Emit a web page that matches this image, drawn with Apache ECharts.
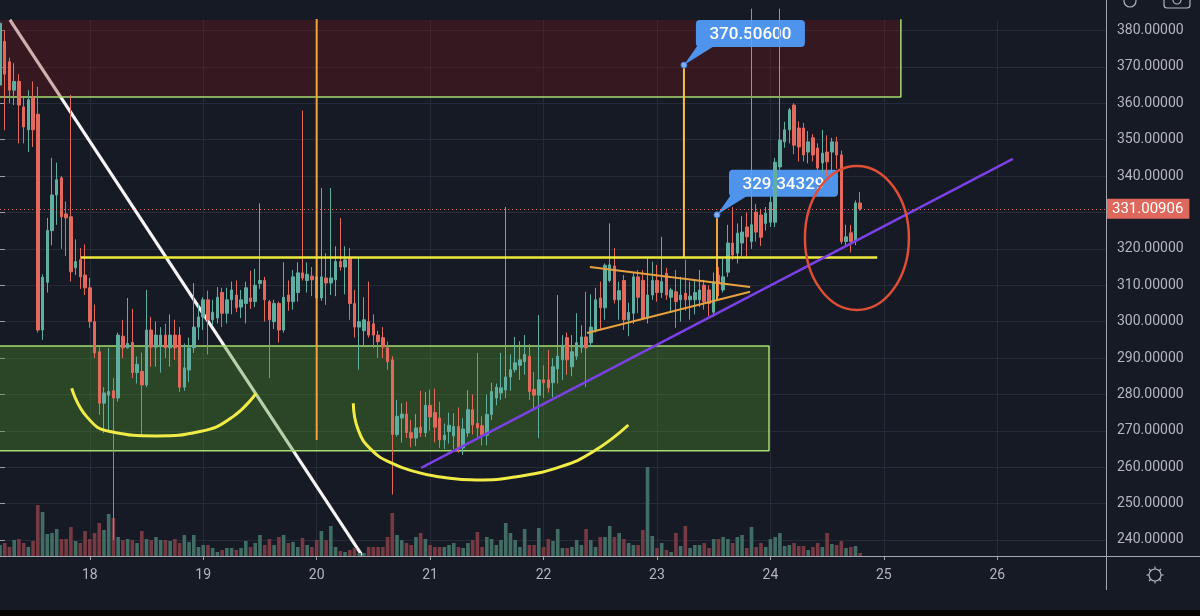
<!DOCTYPE html>
<html><head><meta charset="utf-8">
<script src="https://cdn.jsdelivr.net/npm/echarts@6/dist/echarts.min.js"></script>
<style>html,body{margin:0;padding:0;background:#161a25;overflow:hidden}#c{width:1200px;height:616px}</style>
</head><body><div id="c"></div>
<script>
// ---- axis / tick data ----
const dayTicks = ['18','19','20','21','22','23','24','25','26'];
const firstTickSlot = 19;      // hourly slot of day 18 00:00
const slotsPerDay = 24;
const totalSlots = 235;
// ---- hourly candles [open, close, low, high] ----
const candles = [
[365,382,362,383.5],[377,368,352.6,380],[371.4,363.6,360,372.5],[363.6,366,359.5,371],[366,359.5,349,368],
[359,353.5,349,361.5],[352.7,361,346.6,363.6],[361.5,352.7,348,366],[357,297.7,297,364.5],[297.7,312.2,295,313],
[310.8,325.1,308,328.5],[325,334.8,321,345],[334.8,339,326.6,343.7],[339.5,328.8,320,340],[329.6,328.5,318,333],
[328.8,313.7,311,362.3],[314.8,316.5,312.8,322.6],[317,312.3,309,320.2],[312.8,309.3,307.3,321.2],[309.3,300,298.3,312],
[300,291.4,290,304.7],[291.7,277.6,274.4,293],[277.6,280.4,269.4,282],[279.8,280.8,269.7,292.8],[281,279,240,284.5],
[279,296.3,278,297],[296,292.8,290,300.5],[292.8,294,292.6,306.5],[294.3,286,284.5,303.5],[286,288.3,283,290.4],
[286.3,282.6,268.3,291.5],[282.6,297.7,282,308.7],[297.7,293,287.6,301.3],[293,296.3,287.6,300],[293.5,296.3,286,298.5],
[296.3,292.8,290,299.4],[292.8,296.3,287.6,302],[296.3,292.8,289.5,300.5],[296.3,282,280.7,298.5],[282,287.3,281,294],
[286.7,292.8,283.4,295.6],[292.8,298.5,291.4,310.6],[298.5,301.3,295,304.8],[301.3,306,297.7,306.7],[306,300.5,291,308.5],
[300.5,302.6,299,306],[301,306.7,299.5,309.5],[308,302.3,298.5,309.3],[302.3,306,299.5,309.3],[306,308.7,302,311],
[307.3,303.8,302.6,311.3],[304,306,301,308.7],[305,309.3,299.5,311],[306.5,305.5,303.5,314],[305.5,310,304,314.5],
[310.5,311.3,309,332.5],[311.3,306,300,312.3],[305.5,300.5,284.5,306],[300,305,298,306],[305,297.7,294.3,305.5],
[297.7,306.7,297,316.3],[307.3,305.5,303,311.3],[305.5,312.3,303.3,314.2],[308,313.4,305.5,316.3],[313.4,312,311.3,358],
[311.3,313,308,316.3],[312.5,311.5,307,315],[312.3,306.5,304,314],[306.5,312.3,305.7,336.7],[312,310.6,304.6,318.8],
[310.6,312,307.3,336.7],[311.5,316.5,307,320.7],[316.5,315,314,328.5],[315,317,307.5,320.7],[317.6,305,300.5,320.2],
[305,298.5,295.6,308.7],[298.5,300,286.8,317.6],[297.5,300.5,293,306.7],[300,296.3,295.6,311],[299.4,296.3,292.8,302],
[296.3,294.5,290,297.5],[295.6,293,290,298.5],[292.8,289,286.8,294.5],[289.5,269,252.5,290.5],[269,274,268.4,278.5],
[273.5,274.6,266.8,277.6],[274.6,269.5,268,278],[269.5,268,265.5,273],[268,270.8,265.8,274.6],[271,269.5,268.3,281],
[269.5,277,268.3,280.7],[277,273.8,270,281.3],[275,271,266.8,281.6],[273.5,267.5,265.3,278],[267.5,268.8,265,272],
[269.8,271.5,266.5,275],[268.6,271.2,265,274.8],[271.2,265.3,264,276.4],[265.3,270.5,263.4,273.5],[269.4,275.8,268.3,281.2],
[275.8,271.6,269,280],[272,270.8,267.5,291.4],[271.4,268.8,266,274],[268.8,274.5,266,280],[274.5,280.8,273,283.2],
[279,282,277,283],[280.4,281.8,278.5,291.4],[281.2,284.8,279,331.5],[284.8,286.8,281,291],[286.8,288.7,286,295.8],
[288,289.5,284,294.6],[289,291,285.4,296.3],[290.5,280.8,278.5,293.8],[281.4,279.8,275.6,286.2],[279.8,284,268,301.8],
[284,283.2,279,288],[284,281.8,280.5,292.2],[283.2,287.6,279.2,290],[287,290.5,283,307.3],[289.5,293.5,284,296.3],
[295.6,289.5,285.4,297],[287.6,291.7,285,296.3],[290.5,294.2,289.5,302.3],[292.8,295.8,291.4,299],[295.8,292.8,282,308.2],
[294.2,298.5,293,307.5],[297.7,306,297,309.3],[306.5,303.8,298,311],[303.8,315.5,300.5,316],[311.3,315.6,310.8,327],
[315.3,306,305,320.2],[306,308.5,300.5,311],[311.3,300.5,297.7,312.8],[300.5,302.5,296,305.2],[302.3,312.3,299.4,313.6],
[312.3,306.7,302.3,314.2],[311.3,301,300.5,314.2],[301,307.3,299.5,317.8],[307.3,311.3,306,316.5],[311.3,308,305.5,315.6],
[308,311,306.5,323.3],[313.3,307.3,306,314.8],[306.7,308.7,302.6,309.3],[308.2,305.5,298.3,314.2],[306,307.3,300,312.3],
[307.8,306,303,317],[306,307,300.5,311],[306,308,302,311.5],[306,308.7,304,314.2],[310,305.5,303.3,311.5],
[308.7,305,301.5,310],[302.6,311,301.3,313.5],[312.8,310.8,307,315],[308.7,312.3,308,317.5],[313.6,321.6,312.3,326.6],
[321.6,318.3,317,331.5],[318.8,324.3,316,327],[321.6,324.6,318,329],[326,323.3,317.8,330],[322,326.6,320,386],
[330.1,324.6,322,332.3],[329.3,323.2,320.8,331],[327,329.8,325,331.5],[327.3,332.8,326,334.4],[327.3,343.8,326,345],
[342.5,349.9,341.5,386],[349.4,352.7,347.8,354.9],[352.7,358.2,349,358.7],[359.5,348.5,346,360],[353.2,348,344,355],
[353.2,345.8,344,354.6],[346.6,349.4,343.5,352.4],[350.5,345.8,344,351.5],[347.7,342.2,339.4,349],[343.6,346.3,341,352.7],
[346.6,343.9,340,351.2],[346.6,349.4,339,350.5],[349.4,345.8,342,350.8],[345.8,322,321.3,347],[322,323.3,321,326.6],
[324.4,322,319,326.6],[322,332.6,321,333.3],[332.6,331.00906,330.5,335.6]
];
// ---- hourly volumes (k) ----
const volumes = [
11,13,9,16,17,13,9,15,51,44, 22,23,27,17,17,29,15,13,25,17, 23,33,26,42,38,19,16,17,16,13,
25,17,16,19,16,16,15,17,13,21, 14,21,9,11,11,8,4,6,8,8, 6,8,15,9,13,21,11,17,11,19,
21,13,14,9,18,11,9,16,25,16, 30,9,5,4,6,8,3,3,9,9, 9,9,19,43,21,
16,13,11,19,23,17,11,9,9,9, 11,13,9,8,13,16,24,9,19,17, 11,16,33,23,16,9,27,11,11,28,
9,17,15,27,8,8,9,16,11,27, 16,9,19,19,30,19,23,17,13,11, 11,26,89,20,8,13,6,4,23,10,
30,8,11,11,13,8,17,17,19,17, 13,19,21,8,29,9,13,9,17,19, 23,10,11,13,10,
10,6,9,13,9,23,12,11,15,8,9,10,3
];
const lastPrice = 331.00906;
// ---- drawings (slot index, price) ----
const resistanceZone = [[-5, 361.7], [190.6, 392]];
const supportZone = [[-5, 264.5], [162.7, 293.3]];
const resistanceBorder = [[190.6, 392], [190.6, 361.7], [-5, 361.7]];
const supportBorder = [[-5, 293.3], [162.7, 293.3], [162.7, 264.5], [-5, 264.5]];
const downTrend = [[2.1, 382.9], [76.6, 235.8]];
const upTrend = [[89.1, 259.8], [214.3, 344.7]];
const neckline = [[17.1, 317.6], [185.6, 317.6]];
const triUpper = [[124.8, 315.0], [158.7, 309.5]];
const triLower = [[124.2, 296.9], [158.7, 308.2]];
const vLine1 = [[67, 385], [67, 267.5]];
const vLine2 = [[144.7, 370.506], [144.7, 317.5]];
const vLine3 = [[151.7, 329.34329], [151.7, 306]];
const arc1 = [[15.17,281.7],[18.34,273.9],[23.27,269.8],[33.15,268.6],[42.31,269.8],[49.3,273.9],[54.16,280.3]];
const arc2 = [[74.75,277.6],[75.81,270.2],[78.64,264.7],[82.87,261.1],[87.8,258.8],[92.73,257.4],[100.86,256.5],[109.32,257.4],[118.48,260.1],[125.53,264.3],[132.93,271.6]];
const callouts = [{at:[144.7, 370.506], text:'370.50600'}, {at:[151.7, 329.34329], text:'329.34329'}];
const circleMark = {center:[181.3, 323.0], rx:11.0, ry:19.8};

const UP = '#5fae9f', DOWN = '#e3695d';
const slots = [];
for (let i = 0; i < totalSlots; i++) {
  const k = i - firstTickSlot;
  slots.push(k >= 0 && k % slotsPerDay === 0 ? dayTicks[k / slotsPerDay] : 's' + i);
}
const isTick = (i) => i >= firstTickSlot && (i - firstTickSlot) % slotsPerDay === 0;
const volData = volumes.map((v, i) => ({value: v, itemStyle: {color: candles[i][1] >= candles[i][0] ? '#416d64' : '#773a42'}}));

function lineSeries(data, color, width, z, extra) {
  return Object.assign({type:'line', xAxisIndex:1, yAxisIndex:0, data:data, symbol:'none', silent:true,
    lineStyle:{color:color, width:width}, z:z, animation:false}, extra || {});
}

const chart = echarts.init(document.getElementById('c'), null, {renderer:'canvas'});
const option = {
  backgroundColor:'#161a25',
  animation:false,
  grid:{left:0, right:94, top:20, bottom:60},
  xAxis:[
    {type:'category', data:slots, boundaryGap:false,
     axisLine:{show:false},
     axisTick:{show:true, interval:isTick, length:4, lineStyle:{color:'#9a9ea8'}},
     axisLabel:{interval:isTick, color:'#b2b5be', fontSize:14, margin:12, fontFamily:'Roboto'},
     splitLine:{show:true, interval:isTick, lineStyle:{color:'#262b37', width:1}}},
    {type:'value', min:0, max:totalSlots - 1, show:false}
  ],
  yAxis:[
    {type:'value', position:'right', min:235.6, max:382.885, minInterval:10, maxInterval:10,
     axisLine:{show:false},
     axisTick:{show:true, length:5, lineStyle:{color:'#9a9ea8'}},
     axisLabel:{margin:11, color:'#b4b7c0', fontSize:14, fontFamily:'Roboto', showMinLabel:false, showMaxLabel:false,
       formatter:(v) => v.toFixed(5)},
     splitLine:{showMinLine:false, showMaxLine:false, lineStyle:{color:'#262b37', width:1}}},
    {type:'value', min:0, max:536, show:false}
  ],
  series:[
    lineSeries(downTrend, '#f6f4f4', 3.2, 0),
    {type:'line', xAxisIndex:1, yAxisIndex:0, data:[], silent:true, z:1,
     markArea:{silent:true, z:1, data:[
       [{coord:resistanceZone[0], itemStyle:{color:'rgba(125,22,24,0.31)'}}, {coord:resistanceZone[1]}],
       [{coord:supportZone[0], itemStyle:{color:'rgba(80,146,44,0.37)'}}, {coord:supportZone[1]}]
     ]}},
    lineSeries(resistanceBorder, '#a8dc70', 1.5, 1.5),
    lineSeries(supportBorder, '#a8dc70', 1.5, 1.5),
    {type:'bar', xAxisIndex:0, yAxisIndex:1, data:volData, barWidth:3.6, silent:true, z:1},
    {type:'candlestick', xAxisIndex:0, yAxisIndex:0, data:candles, barWidth:3, silent:true, z:10,
     itemStyle:{color:UP, color0:DOWN, borderColor:UP, borderColor0:DOWN, borderWidth:1},
     markLine:{silent:true, symbol:['none','none'], z:12,
       data:[{yAxis:lastPrice}],
       lineStyle:{color:'#d9695e', type:[1,3], width:1},
       label:{position:'end', distance:0, formatter:() => lastPrice.toFixed(5), backgroundColor:'#df685c',
         color:'#ffffff', fontSize:15, fontFamily:'Roboto', padding:[3,6,2,6], lineHeight:15}}},
    lineSeries(vLine1, '#f2a43a', 2, 11),
    lineSeries(vLine2, '#f4c244', 2, 11),
    lineSeries(vLine3, '#f2a43a', 2, 11),
    lineSeries(triUpper, '#e7a13e', 2, 11),
    lineSeries(triLower, '#e7a13e', 2, 11),
    lineSeries(neckline, '#efe83c', 2.5, 11),
    lineSeries(upTrend, '#7b40e6', 2.5, 11),
    lineSeries(arc1, '#f1ec45', 3, 11, {smooth:0.5}),
    lineSeries(arc2, '#f1ec45', 3, 11, {smooth:0.5})
  ]
};
chart.setOption(option);

// ---- pixel-placed decorations computed from data coordinates ----
const px = (p) => chart.convertToPixel({xAxisIndex:1, yAxisIndex:0}, p);
const graphics = [];
callouts.forEach((c) => {
  const p = px(c.at);
  const bx = p[0] + 12, by = p[1] - 45, bw = 109, bh = 27;
  graphics.push({type:'polygon', z:2, shape:{points:[[bx + 2, by + bh - 2], [bx + 20, by + bh - 2], [p[0], p[1]]]}, style:{fill:'#4f94ec'}});
  graphics.push({type:'rect', z:2, shape:{x:bx, y:by, width:bw, height:bh, r:4}, style:{fill:'#4f94ec'}});
  graphics.push({type:'text', z:2, style:{text:c.text, x:bx + bw / 2, y:by + bh / 2 + 1, align:'center', verticalAlign:'middle',
    fill:'#ffffff', font:'500 17px Roboto'}});
  graphics.push({type:'circle', z:13, shape:{cx:p[0], cy:p[1], r:3}, style:{fill:'#7fb0f2', stroke:'#3f7bd6', lineWidth:1}});
});
const c0 = px(circleMark.center);
const cx1 = px([circleMark.center[0] + circleMark.rx, circleMark.center[1] + circleMark.ry]);
graphics.push({type:'ellipse', z:13, shape:{cx:c0[0], cy:c0[1], rx:Math.abs(cx1[0] - c0[0]), ry:Math.abs(c0[1] - cx1[1])},
  style:{fill:'none', stroke:'#df4e36', lineWidth:2.5}});
// axis lines
graphics.push({type:'line', z:14, shape:{x1:0, y1:556.5, x2:1200, y2:556.5}, style:{stroke:'#a3a7b0', lineWidth:1}});
graphics.push({type:'line', z:14, shape:{x1:1106.5, y1:0, x2:1106.5, y2:590}, style:{stroke:'#a3a7b0', lineWidth:1}});
// settings icon
graphics.push({type:'circle', z:14, shape:{cx:1155, cy:575, r:6}, style:{fill:'none', stroke:'#b2b5be', lineWidth:1.2}});
for (let k = 0; k < 8; k++) {
  const a = k * Math.PI / 4;
  graphics.push({type:'line', z:14, shape:{x1:1155 + Math.cos(a) * 6, y1:575 + Math.sin(a) * 6, x2:1155 + Math.cos(a) * 8.5, y2:575 + Math.sin(a) * 8.5},
    style:{stroke:'#b2b5be', lineWidth:1.2}});
}
// top toolbar icons (partially visible)
graphics.push({type:'circle', z:14, shape:{cx:1130, cy:1, r:6}, style:{fill:'none', stroke:'#b2b5be', lineWidth:1.2}});
graphics.push({type:'rect', z:14, shape:{x:1164, y:-7, width:26, height:15, r:3}, style:{fill:'none', stroke:'#b2b5be', lineWidth:1.2}});
graphics.push({type:'circle', z:14, shape:{cx:1177, cy:0, r:4}, style:{fill:'none', stroke:'#b2b5be', lineWidth:1.2}});
graphics.push({type:'rect', z:15, shape:{x:0, y:610, width:1200, height:6}, style:{fill:'#050505'}});
chart.setOption({graphic:graphics});
</script></body></html>
